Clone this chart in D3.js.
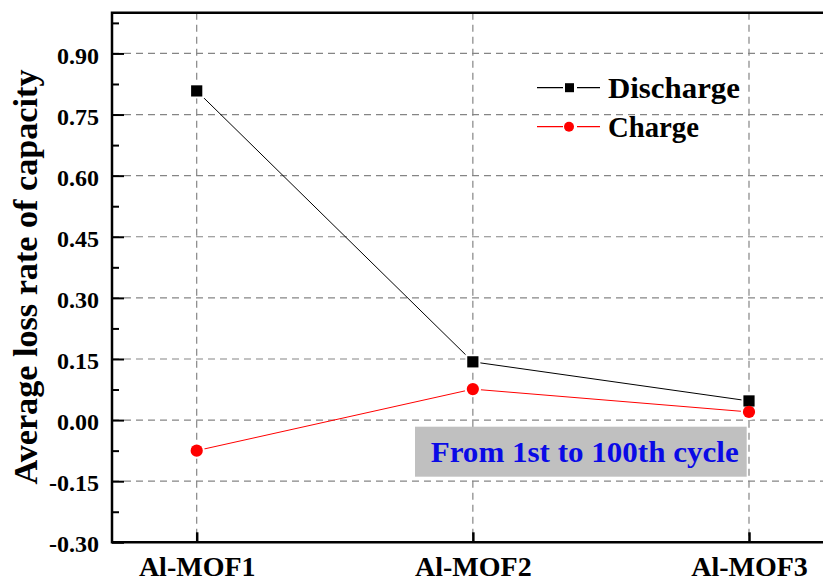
<!DOCTYPE html>
<html>
<head>
<meta charset="utf-8">
<script src="https://cdn.jsdelivr.net/npm/d3@7"></script>
<style>
  html, body { margin: 0; padding: 0; background: #fff; }
  svg { display: block; }
  text { font-family: "Liberation Serif", "Times New Roman", serif; font-weight: bold; }
</style>
</head>
<body>
<svg id="chart" width="823" height="581"></svg>
<script>
// ---- data ----
const categories = ["Al-MOF1", "Al-MOF2", "Al-MOF3"];
const discharge = [0.808, 0.143, 0.047];
const charge = [-0.075, 0.076, 0.020];
const yTicks = [-0.30, -0.15, 0.00, 0.15, 0.30, 0.45, 0.60, 0.75, 0.90];
const yMinorTicks = [-0.225, -0.075, 0.075, 0.225, 0.375, 0.525, 0.675, 0.825, 0.975];
const seriesNames = ["Discharge", "Charge"];
const annotation = "From 1st to 100th cycle";
const yTitle = "Average loss rate of capacity";

// ---- layout ----
const svg = d3.select("#chart");
const pLeft = 112, pTop = 12.7, pBottom = 542.3, pRight = 845;
const serif = '"Liberation Serif", "Times New Roman", serif';

const x = d3.scalePoint().domain(categories).range([196.7, 749]);
const y = d3.scaleLinear().domain([-0.3, 1.0]).range([pBottom, pTop]);

// grid
const grid = svg.append("g").attr("stroke", "#858585").attr("stroke-width", 1.2)
  .attr("stroke-dasharray", "7,5").attr("fill", "none");
grid.selectAll("line.h").data(yTicks.filter(d => d > -0.3)).join("line")
  .attr("class", "h")
  .attr("x1", pLeft).attr("x2", pRight)
  .attr("y1", d => y(d)).attr("y2", d => y(d));
grid.selectAll("line.v").data(categories).join("line")
  .attr("class", "v")
  .attr("x1", d => x(d)).attr("x2", d => x(d))
  .attr("y1", pTop).attr("y2", pBottom);

// annotation box
svg.append("rect").attr("x", 415).attr("y", 426.7).attr("width", 331.7).attr("height", 50)
  .attr("fill", "#c0c0c0");
svg.append("text").attr("x", 430.7).attr("y", 461.7)
  .style("font-family", serif).style("font-weight", "bold")
  .attr("font-size", 30).attr("fill", "#0a0ae6")
  .attr("textLength", 308).attr("lengthAdjust", "spacingAndGlyphs")
  .text(annotation);

// axes: left (ticks inward)
const yAxis = d3.axisLeft(y).tickValues(yTicks).tickSizeInner(-12).tickSizeOuter(0)
  .tickFormat(d3.format(".2f")).tickPadding(14);
const gy = svg.append("g").attr("transform", `translate(${pLeft},0)`).call(yAxis)
  .attr("font-family", null).attr("font-size", null);
gy.select(".domain").remove();
gy.selectAll(".tick line").attr("stroke", "#000").attr("stroke-width", 2);
gy.selectAll(".tick text")
  .style("font-family", serif).style("font-weight", "bold").style("font-size", "24px")
  .attr("fill", "#000")
  .attr("dy", "0.4em").attr("x", -13)
  .text(d => d3.format(".2f")(d).replace("−", "-"));
const yMinor = d3.axisLeft(y).tickValues(yMinorTicks).tickSizeInner(-7).tickSizeOuter(0).tickFormat("");
const gym = svg.append("g").attr("transform", `translate(${pLeft},0)`).call(yMinor);
gym.select(".domain").remove();
gym.selectAll(".tick line").attr("stroke", "#000").attr("stroke-width", 2);

// bottom axis
const xAxis = d3.axisBottom(x).tickSizeInner(-10).tickSizeOuter(0).tickPadding(18);
const gx = svg.append("g").attr("transform", `translate(0,${pBottom})`).call(xAxis)
  .attr("font-family", null).attr("font-size", null);
gx.select(".domain").remove();
gx.selectAll(".tick line").attr("stroke", "#000").attr("stroke-width", 2.5);
gx.selectAll(".tick text")
  .style("font-family", serif).style("font-weight", "bold").style("font-size", "28px")
  .attr("fill", "#000")
  .attr("y", 34).attr("dy", 0);

// frame
svg.append("path")
  .attr("d", `M${pRight},${pTop}H${pLeft}V${pBottom}H${pRight}`)
  .attr("fill", "none").attr("stroke", "#000").attr("stroke-width", 2.5);

// series lines
const line = d3.line().x((d, i) => x(categories[i])).y(d => y(d));
svg.append("path").datum(discharge).attr("d", line)
  .attr("fill", "none").attr("stroke", "#000").attr("stroke-width", 1);
svg.append("path").datum(charge).attr("d", line)
  .attr("fill", "none").attr("stroke", "#ff0000").attr("stroke-width", 1);

// marker halos (gap between line and symbol)
svg.append("g").selectAll("rect").data(discharge).join("rect")
  .attr("x", (d, i) => x(categories[i]) - 7.5).attr("y", d => y(d) - 7.5)
  .attr("width", 15).attr("height", 15).attr("fill", "#fff");
svg.append("g").selectAll("circle").data(charge).join("circle")
  .attr("cx", (d, i) => x(categories[i])).attr("cy", d => y(d)).attr("r", 8.2).attr("fill", "#fff");

// markers
svg.append("g").selectAll("rect").data(discharge).join("rect")
  .attr("x", (d, i) => x(categories[i]) - 5.6).attr("y", d => y(d) - 5.6)
  .attr("width", 11.2).attr("height", 11.2).attr("fill", "#000");
svg.append("g").selectAll("circle").data(charge).join("circle")
  .attr("cx", (d, i) => x(categories[i])).attr("cy", d => y(d)).attr("r", 6.1).attr("fill", "#ff0000");

// legend
const legend = svg.append("g");
const legY = [87.7, 126.7];
const legColors = ["#000", "#ff0000"];
seriesNames.forEach((name, i) => {
  const g = legend.append("g").attr("transform", `translate(0,${legY[i]})`);
  g.append("line").attr("x1", 537).attr("x2", 600).attr("y1", 0).attr("y2", 0)
    .attr("stroke", legColors[i]).attr("stroke-width", 1.2);
  g.append("rect").attr("x", 563).attr("y", -7).attr("width", 14).attr("height", 14).attr("fill", "#fff");
  if (i === 0) {
    g.append("rect").attr("x", 565).attr("y", -4.5).attr("width", 9).attr("height", 9).attr("fill", "#000");
  } else {
    g.append("circle").attr("cx", 569).attr("cy", 0).attr("r", 5).attr("fill", "#ff0000");
  }
  g.append("text").attr("x", 608).attr("y", 10.6)
    .style("font-family", serif).style("font-weight", "bold")
    .attr("font-size", 29).attr("fill", "#000")
    .attr("textLength", i === 0 ? 132 : 91).attr("lengthAdjust", "spacingAndGlyphs")
    .text(name);
});

// y title
svg.append("text")
  .attr("transform", "translate(37,277) rotate(-90)")
  .style("font-family", serif).style("font-weight", "bold")
  .attr("text-anchor", "middle").attr("font-size", 34).attr("fill", "#000")
  .attr("textLength", 415).attr("lengthAdjust", "spacingAndGlyphs")
  .text(yTitle);
</script>
</body>
</html>
